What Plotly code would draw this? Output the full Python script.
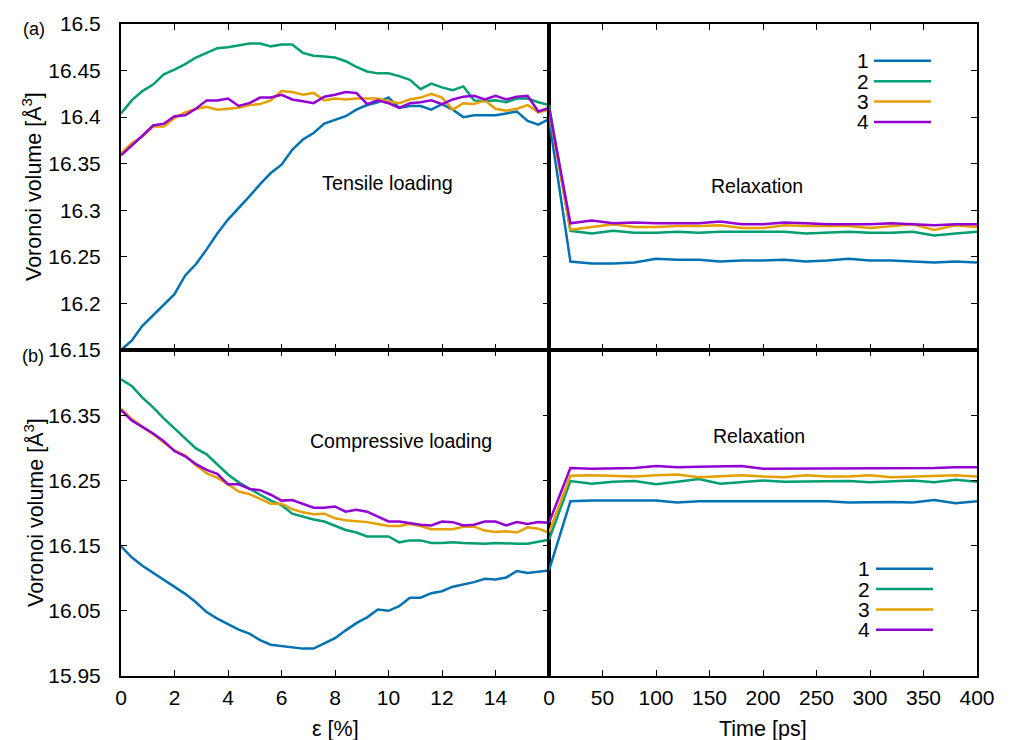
import plotly.graph_objects as go

# ---------------- data ----------------
strain = [0.0, 0.4, 0.8, 1.2, 1.6, 2.0, 2.4, 2.8, 3.2, 3.6, 4.0, 4.4, 4.8, 5.2, 5.6, 6.0,
          6.4, 6.8, 7.2, 7.6, 8.0, 8.4, 8.8, 9.2, 9.6, 10.0, 10.4, 10.8, 11.2, 11.6, 12.0,
          12.4, 12.8, 13.2, 13.6, 14.0, 14.4, 14.8, 15.2, 15.6, 16.0]
time_ps = [0, 20, 40, 60, 80, 100, 120, 140, 160, 180, 200, 220, 240, 260, 280, 300,
           320, 340, 360, 380, 400]

series_names = ["1", "2", "3", "4"]
series_colors = ["#0072b2", "#009e73", "#e69f00", "#9400d3"]

# (a) tensile loading
tens_1 = [16.150, 16.160, 16.176, 16.187, 16.198, 16.210, 16.230, 16.242, 16.258, 16.275,
          16.290, 16.302, 16.315, 16.328, 16.340, 16.349, 16.365, 16.376, 16.383, 16.393,
          16.397, 16.401, 16.408, 16.413, 16.416, 16.421, 16.410, 16.412, 16.412, 16.408,
          16.414, 16.408, 16.400, 16.402, 16.402, 16.402, 16.404, 16.406, 16.396, 16.392, 16.398]
tens_2 = [16.404, 16.418, 16.428, 16.435, 16.446, 16.451, 16.457, 16.464, 16.469, 16.474,
          16.475, 16.477, 16.479, 16.479, 16.476, 16.478, 16.478, 16.469, 16.466, 16.465,
          16.464, 16.460, 16.454, 16.449, 16.447, 16.447, 16.444, 16.440, 16.430, 16.436,
          16.432, 16.429, 16.433, 16.418, 16.417, 16.418, 16.416, 16.420, 16.420, 16.416, 16.413]
tens_3 = [16.361, 16.372, 16.379, 16.390, 16.390, 16.399, 16.405, 16.409, 16.411, 16.408,
          16.409, 16.410, 16.413, 16.414, 16.418, 16.428, 16.427, 16.424, 16.426, 16.418,
          16.420, 16.419, 16.420, 16.420, 16.420, 16.417, 16.415, 16.419, 16.421, 16.425,
          16.421, 16.408, 16.415, 16.414, 16.418, 16.409, 16.407, 16.409, 16.413, 16.405, 16.408]
tens_4 = [16.359, 16.369, 16.380, 16.391, 16.393, 16.401, 16.402, 16.409, 16.418, 16.418,
          16.420, 16.412, 16.415, 16.421, 16.421, 16.424, 16.419, 16.417, 16.415, 16.422,
          16.424, 16.427, 16.426, 16.414, 16.418, 16.415, 16.410, 16.415, 16.416, 16.418,
          16.414, 16.419, 16.422, 16.423, 16.419, 16.423, 16.419, 16.422, 16.423, 16.406, 16.410]

relax_a_1 = [16.398, 16.245, 16.243, 16.243, 16.244, 16.248, 16.247, 16.247, 16.245, 16.246,
             16.246, 16.247, 16.245, 16.246, 16.248, 16.246, 16.246, 16.245, 16.244, 16.245, 16.244]
relax_a_2 = [16.413, 16.278, 16.275, 16.278, 16.276, 16.276, 16.277, 16.276, 16.277, 16.277,
             16.277, 16.277, 16.275, 16.276, 16.277, 16.276, 16.276, 16.277, 16.273, 16.275, 16.277]
relax_a_3 = [16.408, 16.279, 16.282, 16.285, 16.282, 16.282, 16.283, 16.283, 16.284, 16.281,
             16.281, 16.284, 16.283, 16.283, 16.283, 16.281, 16.283, 16.285, 16.279, 16.284, 16.282]
relax_a_4 = [16.410, 16.286, 16.289, 16.286, 16.287, 16.286, 16.286, 16.286, 16.288, 16.285,
             16.285, 16.287, 16.286, 16.285, 16.285, 16.285, 16.286, 16.285, 16.284, 16.285, 16.285]

# (b) compressive loading
comp_1 = [16.149, 16.132, 16.119, 16.108, 16.098, 16.086, 16.076, 16.063, 16.048, 16.038,
          16.029, 16.021, 16.015, 16.005, 15.998, 15.996, 15.994, 15.992, 15.992, 16.000,
          16.008, 16.020, 16.031, 16.040, 16.052, 16.050, 16.057, 16.070, 16.070, 16.077,
          16.080, 16.087, 16.090, 16.094, 16.099, 16.098, 16.101, 16.111, 16.108, 16.110, 16.112]
comp_2 = [16.405, 16.395, 16.377, 16.362, 16.345, 16.330, 16.314, 16.299, 16.290, 16.274,
          16.259, 16.247, 16.237, 16.228, 16.219, 16.212, 16.199, 16.194, 16.190, 16.187,
          16.180, 16.174, 16.170, 16.164, 16.164, 16.164, 16.155, 16.158, 16.158, 16.154,
          16.154, 16.155, 16.154, 16.153, 16.153, 16.154, 16.153, 16.153, 16.153, 16.156, 16.159]
comp_3 = [16.360, 16.344, 16.332, 16.321, 16.308, 16.296, 16.288, 16.273, 16.261, 16.254,
          16.244, 16.233, 16.229, 16.222, 16.214, 16.214, 16.206, 16.201, 16.198, 16.199,
          16.192, 16.189, 16.188, 16.186, 16.183, 16.180, 16.180, 16.183, 16.180, 16.175,
          16.175, 16.175, 16.179, 16.179, 16.173, 16.171, 16.172, 16.170, 16.178, 16.176, 16.170]
comp_4 = [16.358, 16.342, 16.332, 16.322, 16.310, 16.295, 16.287, 16.275, 16.266, 16.260,
          16.244, 16.244, 16.237, 16.235, 16.228, 16.219, 16.220, 16.214, 16.208, 16.208,
          16.210, 16.202, 16.205, 16.202, 16.194, 16.187, 16.187, 16.184, 16.182, 16.181,
          16.187, 16.186, 16.181, 16.182, 16.187, 16.187, 16.181, 16.186, 16.183, 16.186, 16.185]

relax_b_1 = [16.112, 16.218, 16.219, 16.219, 16.218, 16.219, 16.216, 16.218, 16.218, 16.218,
             16.218, 16.217, 16.217, 16.218, 16.216, 16.217, 16.217, 16.216, 16.220, 16.215, 16.218]
relax_b_2 = [16.159, 16.249, 16.245, 16.248, 16.249, 16.244, 16.248, 16.252, 16.245, 16.247,
             16.250, 16.248, 16.248, 16.249, 16.249, 16.247, 16.248, 16.250, 16.247, 16.251, 16.248]
relax_b_3 = [16.170, 16.257, 16.258, 16.257, 16.256, 16.258, 16.259, 16.255, 16.257, 16.258,
             16.256, 16.255, 16.258, 16.256, 16.256, 16.258, 16.255, 16.256, 16.257, 16.258, 16.256]
relax_b_4 = [16.185, 16.269, 16.268, 16.268, 16.269, 16.272, 16.270, 16.271, 16.271, 16.272,
             16.268, 16.268, 16.268, 16.268, 16.268, 16.268, 16.269, 16.269, 16.269, 16.270, 16.270]

strain_ticks = [0, 2, 4, 6, 8, 10, 12, 14]
time_ticks = [0, 50, 100, 150, 200, 250, 300, 350, 400]
ya_ticks = [16.15, 16.2, 16.25, 16.3, 16.35, 16.4, 16.45, 16.5]
ya_text = ["16.15", "16.2", "16.25", "16.3", "16.35", "16.4", "16.45", "16.5"]
yb_ticks = [15.95, 16.05, 16.15, 16.25, 16.35]
yb_text = ["15.95", "16.05", "16.15", "16.25", "16.35"]

# ---------------- figure ----------------
W, H = 1009, 740
L, R, T, B = 121, 32, 20, 64
PW, PH = W - L - R, H - T - B

def px(x):
    return (x - L) / PW

def py(y):
    return (H - B - y) / PH

FONT = "Liberation Sans, Arial, sans-serif"
fig = go.Figure()

panels = [
    ("x", "y", strain, [tens_1, tens_2, tens_3, tens_4]),
    ("x2", "y2", time_ps, [relax_a_1, relax_a_2, relax_a_3, relax_a_4]),
    ("x3", "y3", strain, [comp_1, comp_2, comp_3, comp_4]),
    ("x4", "y4", time_ps, [relax_b_1, relax_b_2, relax_b_3, relax_b_4]),
]
for xa, ya, xs, ys_list in panels:
    for name, color, ys in zip(series_names, series_colors, ys_list):
        fig.add_trace(go.Scatter(x=xs, y=ys, mode="lines", name=name, showlegend=False,
                                 xaxis=xa, yaxis=ya,
                                 line=dict(color=color, width=2.5)))

axis_common = dict(showline=True, linecolor="black", linewidth=2, ticks="inside",
                   ticklen=6, tickwidth=1.3, tickcolor="black", showgrid=False,
                   zeroline=False, tickfont=dict(family=FONT, size=21, color="black"))

fig.update_layout(
    width=W, height=H, plot_bgcolor="white", paper_bgcolor="white",
    margin=dict(l=L, r=R, t=T, b=B),
    xaxis=dict(axis_common, domain=[0, 0.5], range=[0, 16], anchor="y", mirror="ticks",
               tickvals=strain_ticks, showticklabels=False),
    xaxis2=dict(axis_common, domain=[0.5, 1], range=[0, 400], anchor="y2", mirror="ticks",
                tickvals=time_ticks, showticklabels=False),
    xaxis3=dict(axis_common, domain=[0, 0.5], range=[0, 16], anchor="y3", mirror="ticks",
                tickvals=strain_ticks, ticklabelstandoff=2),
    xaxis4=dict(axis_common, domain=[0.5, 1], range=[0, 400], anchor="y4", mirror="ticks",
                tickvals=time_ticks, ticklabelstandoff=2),
    yaxis=dict(axis_common, domain=[0.5, 1], range=[16.15, 16.5], anchor="x", mirror="ticks",
               tickvals=ya_ticks, ticktext=ya_text, ticklabelstandoff=14),
    yaxis2=dict(axis_common, domain=[0.5, 1], range=[16.15, 16.5], anchor="x2", side="right",
                mirror=True, tickvals=ya_ticks, showticklabels=False),
    yaxis3=dict(axis_common, domain=[0, 0.5], range=[15.95, 16.45], anchor="x3", mirror="ticks",
                tickvals=yb_ticks, ticktext=yb_text, ticklabelstandoff=14),
    yaxis4=dict(axis_common, domain=[0, 0.5], range=[15.95, 16.45], anchor="x4", side="right",
                mirror=True, tickvals=yb_ticks, showticklabels=False),
)

def note(text, x, y, size=19, angle=0):
    fig.add_annotation(text=text, x=px(x), y=py(y), xref="paper", yref="paper",
                       showarrow=False, textangle=angle, xanchor="center", yanchor="middle",
                       font=dict(family=FONT, size=size, color="black"))

note("Voronoi volume [Å<sup>3</sup>]", 32, 184, size=21.5, angle=-90)
note("Voronoi volume [Å<sup>3</sup>]", 34, 512, size=21.5, angle=-90)
note("ε [%]", 335, 729, size=21.5)
note("Time [ps]", 763, 729, size=21.5)
note("(a)", 34, 25, size=18)
note("(b)", 33, 354, size=18)
note("Tensile loading", 387, 180, size=19.8)
note("Relaxation", 757, 183, size=19.5)
note("Compressive loading", 401, 440, size=19.5)
note("Relaxation", 759, 435, size=19.5)

# legends (label on the left, line sample on the right, gnuplot style)
for rows, x_text, x0, x1 in (([57, 77.5, 98, 118.5], 870, 874, 931),
                             ([568, 588.5, 609, 629.5], 871, 876, 933)):
    for name, color, yrow in zip(series_names, series_colors, rows):
        fig.add_annotation(text=name, x=px(x_text), y=py(yrow), xref="paper", yref="paper",
                           showarrow=False, xanchor="right", yanchor="middle",
                           height=19, valign="middle", borderpad=0,
                           font=dict(family=FONT, size=21, color="black"))
        fig.add_shape(type="line", xref="paper", yref="paper",
                      x0=px(x0), x1=px(x1), y0=py(yrow), y1=py(yrow),
                      line=dict(color=color, width=2.5))

fig.write_html("out.html")
